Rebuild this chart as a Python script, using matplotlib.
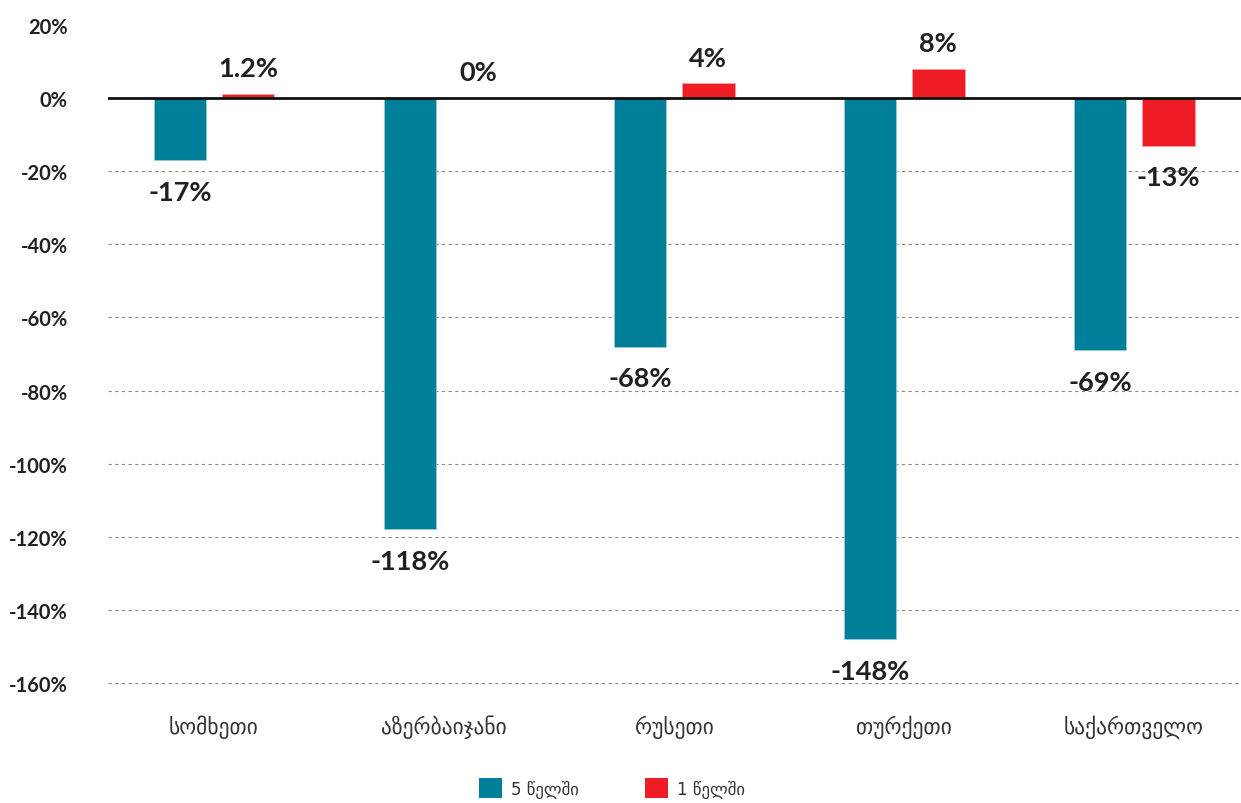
import matplotlib
matplotlib.use("Agg")
import matplotlib.pyplot as plt
from matplotlib.patches import Patch
import numpy as np

countries = ["სომხეთი", "აზერბაიჯანი", "რუსეთი", "თურქეთი", "საქართველო"]
five_year = [-17, -118, -68, -148, -69]
one_year = [1.2, 0, 4, 8, -13]
series_names = ["5 წელში", "1 წელში"]
y_ticks = [20, 0, -20, -40, -60, -80, -100, -120, -140, -160]

TEAL = "#007F9A"
RED = "#EE1C25"
INK = "#231F20"
NUM_FONT = ["Lato", "DejaVu Sans"]

fig = plt.figure(figsize=(12.41, 8.04), dpi=100)
ax = fig.add_axes([0.087, 0.1356, 0.913, 0.8321])

x = np.arange(len(countries))
w = 0.23
off = 0.148

b1 = ax.bar(x - off, five_year, w, color=TEAL, edgecolor="#9fc9d3", linewidth=0.6, zorder=3)
b2 = ax.bar(x + off, one_year, w, color=RED, edgecolor="#f7a0a4", linewidth=0.6, zorder=3)

for bars, vals in ((b1, five_year), (b2, one_year)):
    for rect, v in zip(bars, vals):
        cx = rect.get_x() + rect.get_width() / 2
        if v >= 0:
            ax.annotate(f"{v:g}%", (cx, v), xytext=(0, 10), textcoords="offset points",
                        ha="center", va="bottom", fontsize=19.5, fontweight="bold",
                        color=INK, family=NUM_FONT, zorder=5)
        else:
            ax.annotate(f"{v:g}%", (cx, v), xytext=(0, -14), textcoords="offset points",
                        ha="center", va="top", fontsize=19.5, fontweight="bold",
                        color=INK, family=NUM_FONT, zorder=5)

ax.set_xlim(-0.461, 4.465)
ax.set_ylim(-163, 20)

for t in y_ticks:
    if t < 0:
        ax.axhline(t, color="#8a8a8a", linewidth=0.8, linestyle=(0, (3, 3)), zorder=1)
ax.axhline(0, color="#111111", linewidth=2.0, zorder=4)

ax.set_yticks(y_ticks)
ax.set_yticklabels([f"{t}%" for t in y_ticks], fontsize=14.5, fontweight="bold",
                   color=INK, family=NUM_FONT)
ax.tick_params(axis="y", length=0, pad=29)

ax.set_xticks(x)
ax.set_xticklabels(countries, fontsize=15.5, color="#333333", family="DejaVu Sans")
ax.tick_params(axis="x", length=0, pad=15)

for s in ax.spines.values():
    s.set_visible(False)

handles = [Patch(facecolor=TEAL, edgecolor="none"), Patch(facecolor=RED, edgecolor="none")]
fig.legend(handles, series_names, loc="lower center", bbox_to_anchor=(0.493, -0.012),
           ncol=2, frameon=False, fontsize=12, handlelength=1.4, handleheight=1.4,
           handletextpad=0.5, columnspacing=4.0, labelcolor="#333333")

fig.savefig("out.png", dpi=100)
